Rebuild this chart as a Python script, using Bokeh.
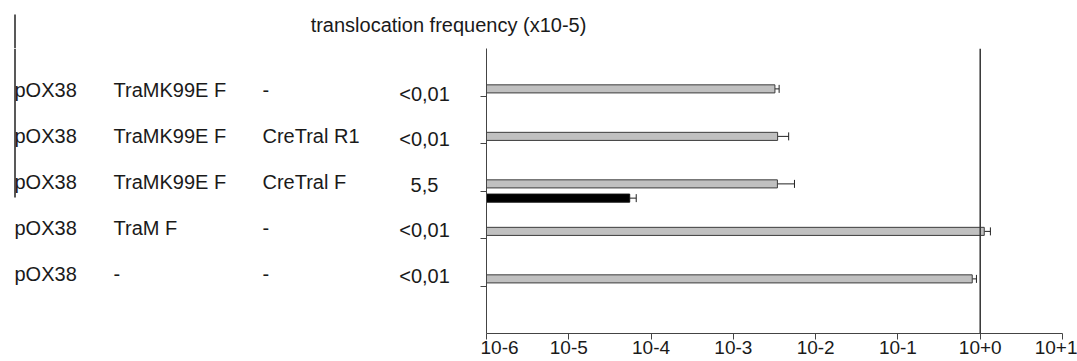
import math
from bokeh.plotting import figure
from bokeh.layouts import column, row
from bokeh.models import (ColumnDataSource, Span, Whisker, TeeHead, FixedTicker,
                          CustomJSTickFormatter, Range1d)
from bokeh.core.properties import value
from bokeh.embed import file_html
from bokeh.resources import INLINE

# ---------------- data ----------------
title_text = "translocation frequency (x10-5)"
plasmid = ["pOX38", "pOX38", "pOX38", "pOX38", "pOX38"]
primer_1 = ["TraMK99E F", "TraMK99E F", "TraMK99E F", "TraM F", "-"]
primer_2 = ["-", "CreTral R1", "CreTral F", "-", "-"]
translocation = ["<0,01", "<0,01", "5,5", "<0,01", "<0,01"]
gray_values = [3.2e-3, 3.45e-3, 3.43e-3, 1.12, 0.80]
gray_errors = [0.4e-3, 1.25e-3, 2.1e-3, 0.21, 0.10]
black_values = [math.nan, math.nan, 5.5e-5, math.nan, math.nan]
black_errors = [math.nan, math.nan, 1.1e-5, math.nan, math.nan]
x_tick_values = [1e-6, 1e-5, 1e-4, 1e-3, 1e-2, 1e-1, 1e0, 1e1]
x_tick_labels = ["10-6", "10-5", "10-4", "10-3", "10-2", "10-1", "10+0", "10+1"]
row_positions = [5, 4, 3, 2, 1]

# ---------------- layout constants ----------------
W, H = 1077, 361
TOP = 48          # height of the title strip
BOTTOM = 28       # space under the chart frame (x tick labels)
TABLE_W = 480     # width of the table panel at the left
FONT = "Liberation Sans"
TXT = "#1a1a1a"
LINE = "#222222"


def blank_figure(width, height, x_range, y_range):
    fig = figure(width=width, height=height, x_range=x_range, y_range=y_range,
                 x_axis_location=None, y_axis_location=None,
                 output_backend="svg", toolbar_location=None, min_border=0)
    fig.outline_line_color = None
    fig.xgrid.visible = False
    fig.ygrid.visible = False
    fig.background_fill_color = "white"
    fig.border_fill_color = "white"
    return fig


# ---------------- title strip ----------------
tfig = blank_figure(W, TOP, Range1d(0, W), Range1d(TOP, 0))
tfig.text(x=[448], y=[24], text=[title_text], text_align="center", text_baseline="middle",
          text_font=value(FONT), text_font_size="20px", text_color=TXT)
tfig.segment(x0=[14.5], y0=[14], x1=[14.5], y1=[TOP], line_color=LINE, line_width=1.5)

# ---------------- table panel (its frame is aligned with the chart frame) ----------------
tab = blank_figure(TABLE_W, H - TOP, Range1d(0, TABLE_W), Range1d(H - BOTTOM, TOP))
tab.min_border_bottom = BOTTOM
n = len(plasmid)
text_y = [89 + 46 * i for i in range(n)]
value_y = [93 + 45.5 * i for i in range(n)]
for cx, col in zip([14, 113, 262], [plasmid, primer_1, primer_2]):
    tab.text(x=[cx] * n, y=text_y, text=col, text_align="left", text_baseline="middle",
             text_font=value(FONT), text_font_size="20px", text_color=TXT)
tab.text(x=[424] * n, y=value_y, text=translocation, text_align="center",
         text_baseline="middle", text_font=value(FONT), text_font_size="20px", text_color=TXT)
tab.segment(x0=[14.5], y0=[TOP], x1=[14.5], y1=[197], line_color=LINE, line_width=1.5)

# ---------------- chart ----------------
p = figure(width=W - TABLE_W, height=H - TOP, x_axis_type="log", x_range=Range1d(1e-6, 10),
           y_range=Range1d(0, 6), output_backend="svg", toolbar_location=None,
           min_border_left=6, min_border_right=15, min_border_top=0, min_border_bottom=BOTTOM)
p.outline_line_color = None
p.xgrid.visible = False
p.ygrid.visible = False
p.background_fill_color = "white"
p.border_fill_color = "white"

p.xaxis.ticker = FixedTicker(ticks=x_tick_values, minor_ticks=[])
p.xaxis.formatter = CustomJSTickFormatter(args=dict(labels=x_tick_labels),
    code="return labels[Math.round(Math.log10(tick)) + 6];")
p.xaxis.major_tick_out = 6
p.xaxis.major_tick_in = 0
p.xaxis.minor_tick_line_color = None
p.xaxis.major_label_standoff = 1
p.xaxis.major_label_text_font = FONT
p.xaxis.major_label_text_font_size = "19px"
p.xaxis.major_label_text_color = TXT
p.xaxis.axis_line_color = "#444444"
p.xaxis.major_tick_line_color = "#444444"

p.yaxis.ticker = FixedTicker(ticks=row_positions, minor_ticks=[])
p.yaxis.formatter = CustomJSTickFormatter(code="return '';")
p.yaxis.major_tick_out = 6
p.yaxis.major_tick_in = 0
p.yaxis.major_label_standoff = 0
p.yaxis.minor_tick_line_color = None
p.yaxis.axis_line_color = "#444444"
p.yaxis.major_tick_line_color = "#444444"

p.add_layout(Span(location=1, dimension="height", line_color="#333333", line_width=1.5))

gsrc = ColumnDataSource(dict(
    y=[r + 0.15 for r in row_positions],
    v=gray_values,
    u=[v + e for v, e in zip(gray_values, gray_errors)],
))
p.hbar(y="y", left=1e-6, right="v", height=0.17, source=gsrc,
       fill_color="#c0c0c0", line_color="#3c3c3c", line_width=1)
p.add_layout(Whisker(source=gsrc, base="y", lower="v", upper="u", dimension="width",
                     line_color=LINE, line_width=1,
                     upper_head=TeeHead(size=8, line_color=LINE, line_width=1),
                     lower_head=None))

bi = [i for i, v in enumerate(black_values) if not math.isnan(v)]
bsrc = ColumnDataSource(dict(
    y=[row_positions[i] - 0.15 for i in bi],
    v=[black_values[i] for i in bi],
    u=[black_values[i] + black_errors[i] for i in bi],
))
p.hbar(y="y", left=1e-6, right="v", height=0.17, source=bsrc,
       fill_color="#000000", line_color="#111111", line_width=1)
p.add_layout(Whisker(source=bsrc, base="y", lower="v", upper="u", dimension="width",
                     line_color=LINE, line_width=1,
                     upper_head=TeeHead(size=8, line_color=LINE, line_width=1),
                     lower_head=None))

layout = column(tfig, row(tab, p, spacing=0), spacing=0)
open("out.html", "w").write(file_html(layout, INLINE))
